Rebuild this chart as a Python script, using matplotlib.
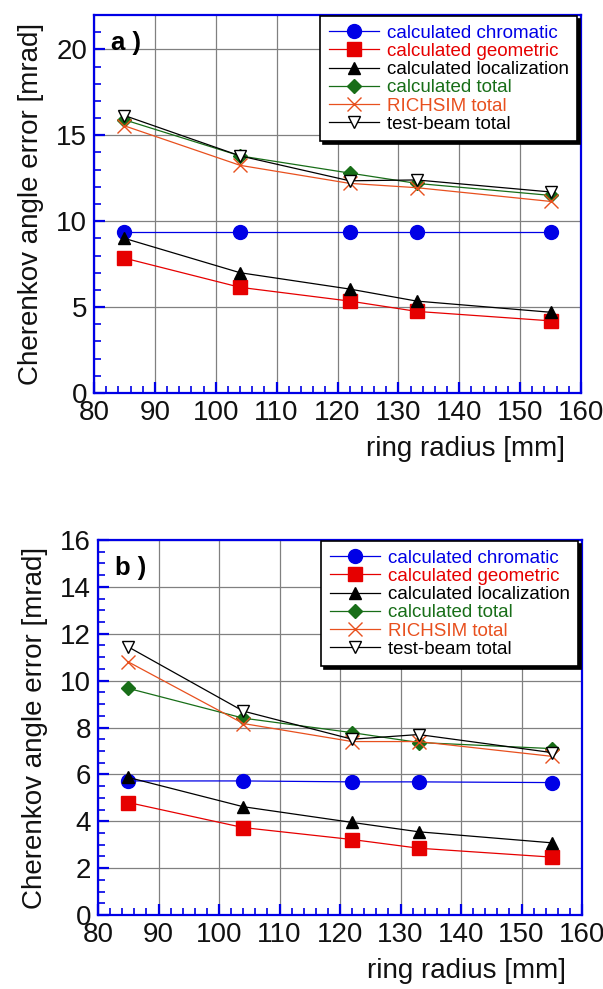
import matplotlib
matplotlib.use('Agg')
import matplotlib.pyplot as plt
from matplotlib.ticker import MultipleLocator

plt.rcParams['font.family'] = ['Liberation Sans', 'DejaVu Sans']

# ring radius [mm]
radius = [85, 104, 122, 133, 155]

# panel a)
a_chromatic = [9.35, 9.35, 9.35, 9.35, 9.35]
a_geometric = [7.85, 6.15, 5.35, 4.75, 4.2]
a_localization = [9.0, 7.0, 6.05, 5.35, 4.7]
a_calc_total = [15.9, 13.8, 12.8, 12.2, 11.5]
a_richsim = [15.55, 13.25, 12.2, 11.95, 11.15]
a_testbeam = [16.15, 13.8, 12.35, 12.4, 11.7]

# panel b)
b_chromatic = [5.72, 5.72, 5.68, 5.68, 5.65]
b_geometric = [4.8, 3.73, 3.22, 2.85, 2.47]
b_localization = [5.87, 4.62, 3.95, 3.55, 3.08]
b_calc_total = [9.67, 8.4, 7.78, 7.36, 7.1]
b_richsim = [10.8, 8.17, 7.4, 7.4, 6.77]
b_testbeam = [11.44, 8.7, 7.5, 7.7, 6.93]

labels = ['calculated chromatic', 'calculated geometric', 'calculated localization',
          'calculated total', 'RICHSIM total', 'test-beam total']

BLUE = '#0000e6'
RED = '#e60000'
GREEN = '#186e18'
ORANGE = '#e8501e'


def draw_panel(ax, series, ymax, ymajor, yminor, tag):
    styles = [
        dict(color=BLUE, marker='o', ms=10, mfc=BLUE, mec=BLUE),
        dict(color=RED, marker='s', ms=10, mfc=RED, mec=RED),
        dict(color='black', marker='^', ms=8, mfc='black', mec='black'),
        dict(color=GREEN, marker='D', ms=7, mfc=GREEN, mec=GREEN),
        dict(color=ORANGE, marker='x', ms=10, mew=1.0),
        dict(color='black', marker='v', ms=9, mfc='white', mec='black', mew=1.0),
    ]
    for y, lab, st in zip(series, labels, styles):
        ax.plot(radius, y, lw=0.9, label=lab, **st)

    ax.set_xlim(80, 160)
    ax.set_ylim(0, ymax)
    ax.xaxis.set_major_locator(MultipleLocator(10))
    ax.xaxis.set_minor_locator(MultipleLocator(2))
    ax.yaxis.set_major_locator(MultipleLocator(ymajor))
    ax.yaxis.set_minor_locator(MultipleLocator(yminor))
    ax.grid(True, which='major', color='#808080', lw=0.9)
    ax.set_axisbelow(True)

    for s in ax.spines.values():
        s.set_color(BLUE)
        s.set_linewidth(1.6)
    ax.tick_params(which='both', direction='in', color=BLUE, top=False, right=False,
                   labelsize=20, labelcolor='#111111')
    ax.tick_params(which='major', length=8, width=1.6, pad=5)
    ax.tick_params(which='minor', length=5, width=1.2)

    ax.set_ylabel('Cherenkov angle error [mrad]', fontsize=20, color='#111111', labelpad=9)
    ax.set_xlabel('ring radius [mm]', fontsize=20, color='#111111')
    ax.xaxis.set_label_coords(0.967, -0.115)
    ax.xaxis.label.set_horizontalalignment('right')

    ax.text(0.035, 0.925, tag, transform=ax.transAxes, fontsize=18.5, fontweight='bold',
            va='center', ha='left')

    leg = ax.legend(loc='upper right', bbox_to_anchor=(0.992, 0.997), borderaxespad=0,
                    fontsize=13.5, handlelength=2.7, handletextpad=0.4, labelspacing=0.06,
                    borderpad=0.45, fancybox=False, framealpha=1, edgecolor='black',
                    shadow=dict(color='black', alpha=1))
    leg.get_frame().set_linewidth(1.2)
    for txt, line in zip(leg.get_texts(), leg.get_lines()):
        txt.set_color(line.get_color())


fig = plt.figure(figsize=(6.03, 9.89), dpi=100)

ax_a = fig.add_axes([94 / 603, 1 - 393 / 989, 487 / 603, 378 / 989])
draw_panel(ax_a, [a_chromatic, a_geometric, a_localization, a_calc_total, a_richsim, a_testbeam],
           22, 5, 1, 'a )')

ax_b = fig.add_axes([98 / 603, 1 - 915 / 989, 484 / 603, 375 / 989])
draw_panel(ax_b, [b_chromatic, b_geometric, b_localization, b_calc_total, b_richsim, b_testbeam],
           16, 2, 0.5, 'b )')

fig.savefig('out.png', dpi=100)
